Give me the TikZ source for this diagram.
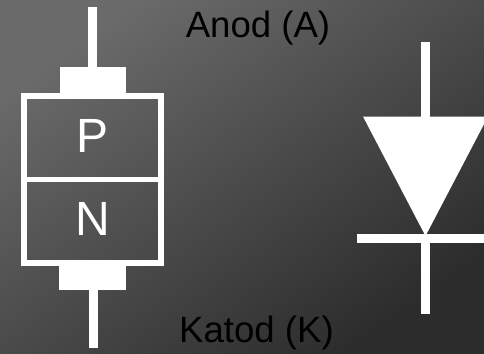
\documentclass[tikz,border=0pt]{standalone}
\usepackage{fontspec}
\setmainfont{Liberation Sans}
\definecolor{bglight}{HTML}{6A6A6A}
\definecolor{bgdark}{HTML}{2C2C2C}
\tikzset{
    lead/.style={white, line width=9pt},
    plate/.style={fill=white},
    blk/.style={black, font=\fontsize{36.6}{36.6}\selectfont},
    wht/.style={white, font=\fontsize{48}{48}\selectfont}
}
\begin{document}
\begin{tikzpicture}[x=1pt, y=-1pt]
\useasboundingbox (0,0) rectangle (484,353);
\shade[left color=bglight, right color=bgdark, shading angle=35] (0,0) rectangle (484,353);
% junction
\draw[lead] (92.5,7)--(92.5,68);
\fill[plate] (59.5,67) rectangle (126,94);
\draw[white, line width=6pt] (24.2,96.3) rectangle (160.5,262.5);
\draw[white, line width=5.5pt] (24.2,179.5)--(160.5,179.5);
\fill[plate] (59,265) rectangle (125.5,290);
\draw[lead] (93.5,289)--(93.5,348);
\node[wht] (pside) at (93,136) {P};
\node[wht] (nside) at (93,218.5) {N};
\node[blk] (anod) at (258,28) {Anod (A)};
\node[blk] (katod) at (256.5,333) {Katod (K)};
% symbol
\draw[lead] (425.5,42)--(425.5,118);
\fill[plate] (363,116.5)--(488,116.5)--(425.5,236)--cycle;
\draw[lead] (357,238.5)--(484,238.5);
\draw[lead] (425.5,238)--(425.5,314);
\end{tikzpicture}
\end{document}
